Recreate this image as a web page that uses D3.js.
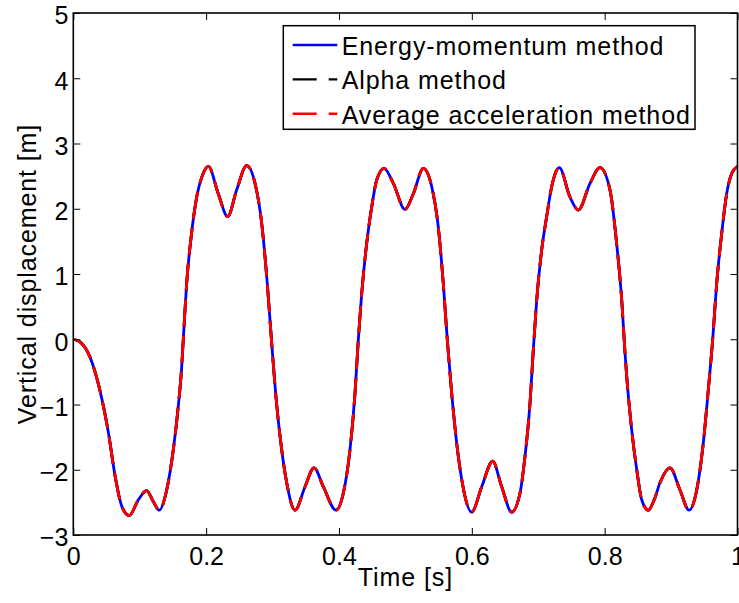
<!DOCTYPE html>
<html>
<head>
<meta charset="utf-8">
<script src="https://cdn.jsdelivr.net/npm/d3@7"></script>
<style>
  body { margin: 0; background: #fff; }
  svg text { font-family: 'Liberation Sans', Arial, sans-serif; fill: #000; }
  .label { font-size: 25px; letter-spacing: 0.9px; }
</style>
</head>
<body>
<div class="chart"></div>
<script>
// time samples [s]
const timeValues = [
  0, 0.010, 0.025, 0.040, 0.053, 0.063, 0.073, 0.0843, 0.098, 0.1105, 0.120,
  0.1295, 0.1406, 0.1506, 0.158, 0.163, 0.1656, 0.1707, 0.178, 0.1858, 0.194,
  0.2033, 0.2183, 0.2324, 0.246, 0.261, 0.2736, 0.2836, 0.292, 0.2987, 0.306,
  0.3137, 0.3213, 0.3338, 0.3489, 0.3624, 0.3764, 0.3955, 0.4065, 0.4166,
  0.4241, 0.4291, 0.4342, 0.4417, 0.4493, 0.4568, 0.4678, 0.4818, 0.4994,
  0.5119, 0.527, 0.5396, 0.5495, 0.557, 0.5631, 0.5697, 0.5772, 0.5848,
  0.5998, 0.6149, 0.6314, 0.645, 0.660, 0.6725, 0.680, 0.6876, 0.6926,
  0.6977, 0.7052, 0.7127, 0.7203, 0.7317, 0.7478, 0.7603, 0.778, 0.793,
  0.808, 0.818, 0.8257, 0.8306, 0.8332, 0.8407, 0.8483, 0.8558, 0.8657,
  0.875, 0.8833, 0.8984, 0.9134, 0.927, 0.9386, 0.9485, 0.956, 0.9626,
  0.9687, 0.9762, 0.9837, 0.9913, 1.0
];

// vertical displacement [m]; the three methods overlap on the plot
const energyMomentum = [
  0, -0.04, -0.27, -0.78, -1.44, -2.10, -2.56, -2.70, -2.46, -2.32, -2.48,
  -2.62, -2.31, -1.69, -1.03, -0.45, 0.0, 0.86, 1.62, 2.18, 2.50,
  2.65, 2.23, 1.88, 2.29, 2.66, 2.39, 1.78, 0.86, -0.06, -0.98,
  -1.69, -2.20, -2.62, -2.26, -1.97, -2.26, -2.62, -2.36, -1.69,
  -0.83, -0.01, 0.70, 1.47, 2.03, 2.44, 2.62, 2.39, 1.99,
  2.23, 2.62, 2.34, 1.72, 0.86, -0.01, -0.83, -1.59, -2.15,
  -2.65, -2.26, -1.87, -2.26, -2.65, -2.36, -1.80, -0.98, -0.16,
  0.60, 1.37, 1.88, 2.34, 2.63, 2.18, 1.98, 2.39, 2.63,
  2.29, 1.47, 0.60, -0.20, -0.57, -1.39, -2.00, -2.46, -2.62,
  -2.45, -2.20, -1.97, -2.31, -2.62, -2.31, -1.59, -0.78, -0.01,
  0.86, 1.62, 2.23, 2.54, 2.65
];
const alphaMethod = energyMomentum;
const averageAcceleration = energyMomentum;

const seriesNames = ['Energy-momentum method', 'Alpha method', 'Average acceleration method'];
const seriesValues = [energyMomentum, alphaMethod, averageAcceleration];
const seriesColors = ['#0000ff', '#000000', '#ff0000'];
const seriesDash = [null, '27,9', '27,9'];

const xTicks = [0, 0.2, 0.4, 0.6, 0.8, 1];
const yTicks = [-3, -2, -1, 0, 1, 2, 3, 4, 5];

function drawChart() {
  const margin = { top: 13, right: 1.5, bottom: 68, left: 73.3 },
    width = 739 - margin.left - margin.right,
    height = 603 - margin.top - margin.bottom;

  const x = d3.scaleLinear().domain([0, 1]).range([0, width]);
  const y = d3.scaleLinear().domain([-3, 5]).range([height, 0]);

  const root = d3
    .select('.chart')
    .append('svg')
    .attr('width', 739)
    .attr('height', 603);

  const svg = root
    .append('g')
    .attr('transform', 'translate(' + margin.left + ',' + margin.top + ')');

  // curves
  seriesValues.forEach((vals, i) => {
    const pts = timeValues.map((t, k) => [t, vals[k]]);
    const line = d3
      .line()
      .x((d) => x(d[0]))
      .y((d) => y(d[1]))
      .curve(d3.curveMonotoneX);
    svg
      .append('path')
      .datum(pts)
      .attr('fill', 'none')
      .attr('stroke', seriesColors[i])
      .attr('stroke-width', 2.8)
      .attr('stroke-dasharray', seriesDash[i])
      .attr('d', line);
  });

  // axes, inward ticks on all four sides like matlab
  const tickLen = 7;
  const bottom = svg
    .append('g')
    .attr('transform', 'translate(0,' + height + ')')
    .call(d3.axisBottom(x).tickValues(xTicks).tickSizeInner(-tickLen).tickSizeOuter(0).tickFormat((d) => d3.format('')(d)));
  const top = svg
    .append('g')
    .call(d3.axisTop(x).tickValues(xTicks).tickSizeInner(-tickLen).tickSizeOuter(0).tickFormat(''));
  const left = svg
    .append('g')
    .call(d3.axisLeft(y).tickValues(yTicks).tickSizeInner(-tickLen).tickSizeOuter(0).tickPadding(5));
  const right = svg
    .append('g')
    .attr('transform', 'translate(' + width + ',0)')
    .call(d3.axisRight(y).tickValues(yTicks).tickSizeInner(-tickLen).tickSizeOuter(0).tickFormat(''));

  [bottom, top, left, right].forEach((g) => {
    g.select('.domain').remove();
    g.selectAll('.tick line').attr('stroke', '#000').attr('stroke-width', 1);
    g.selectAll('.tick text')
      .style('font-size', '25px')
      .attr('fill', '#000');
  });
  bottom.selectAll('.tick text').attr('dy', null).attr('y', 30);
  left.selectAll('.tick text').attr('dy', '0.43em');

  svg
    .append('rect')
    .attr('x', 0)
    .attr('y', 0)
    .attr('width', width)
    .attr('height', height)
    .attr('fill', 'none')
    .attr('stroke', '#000')
    .attr('stroke-width', 1.6);

  // labels
  root
    .append('text')
    .attr('class', 'label')
    .attr('x', margin.left + width / 2)
    .attr('y', 586)
    .attr('text-anchor', 'middle')
    .text('Time [s]');
  root
    .append('text')
    .attr('class', 'label')
    .attr('transform', 'translate(36,' + (margin.top + height / 2) + ') rotate(-90)')
    .attr('text-anchor', 'middle')
    .text('Vertical displacement [m]');

  // legend
  const lg = root.append('g').attr('transform', 'translate(283.3,25.7)');
  lg.append('rect')
    .attr('width', 411.7)
    .attr('height', 103.6)
    .attr('fill', '#fff')
    .attr('stroke', '#000')
    .attr('stroke-width', 1.5);
  const item = lg
    .selectAll('.legend-item')
    .data(seriesNames)
    .enter()
    .append('g')
    .attr('class', 'legend-item')
    .attr('transform', (d, i) => `translate(0,${19.3 + 34.4 * i})`);
  item
    .append('line')
    .attr('x1', 9.4)
    .attr('x2', 54)
    .attr('stroke', (d, i) => seriesColors[i])
    .attr('stroke-width', 2.4)
    .attr('stroke-dasharray', (d, i) => (seriesDash[i] ? '24,12' : null));
  item
    .append('text')
    .attr('class', 'label')
    .attr('x', 58.4)
    .attr('y', 9.7)
    .text((d) => d);
}

drawChart();
</script>
</body>
</html>
